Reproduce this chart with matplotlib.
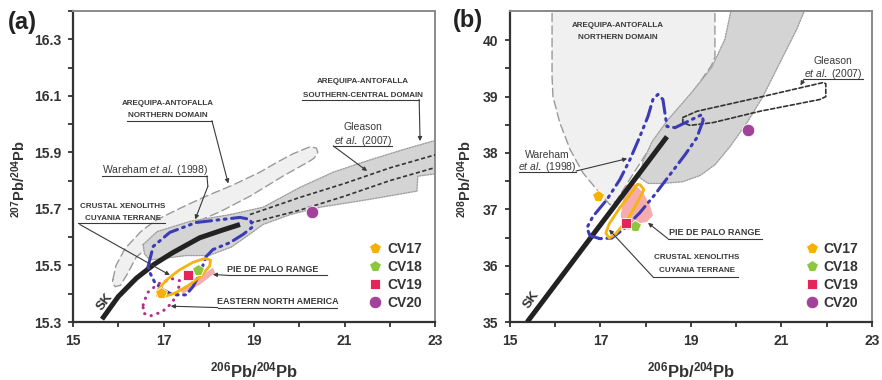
"""Pb isotope diagrams (207Pb/204Pb and 208Pb/204Pb vs 206Pb/204Pb)
"""

import matplotlib
matplotlib.use("Agg")
import matplotlib.pyplot as plt
from matplotlib.patches import Polygon

plt.rcParams['font.family'] = ['Liberation Sans', 'DejaVu Sans']
plt.rcParams['font.weight'] = 'bold'
plt.rcParams['mathtext.fontset'] = 'custom'
plt.rcParams['mathtext.rm'] = 'Liberation Sans:weight=bold'
plt.rcParams['mathtext.it'] = 'Liberation Sans:style=italic:weight=normal'
plt.rcParams['mathtext.bf'] = 'Liberation Sans:weight=bold'

# ---- samples ----
samples = ['CV17', 'CV18', 'CV19', 'CV20']
a_sample_x = [16.94, 17.77, 17.54, 20.28]
a_sample_y = [15.403, 15.485, 15.467, 15.688]
b_sample_x = [16.94, 17.76, 17.56, 20.26]
b_sample_y = [37.24, 36.71, 36.76, 38.40]

# ---- panel (a) fields: 206Pb/204Pb vs 207Pb/204Pb ----
a_sk = [(15.64, 15.31), (16.0, 15.39), (16.4, 15.455), (16.8, 15.505), (17.2, 15.545),
        (17.8, 15.598), (18.3, 15.625), (18.69, 15.645)]
a_north = [(15.88, 15.45), (15.95, 15.50), (16.15, 15.56), (16.5, 15.62), (16.83, 15.66),
           (17.4, 15.705), (17.94, 15.745), (18.54, 15.785), (19.13, 15.83), (19.51, 15.865),
           (19.86, 15.895), (20.24, 15.92), (20.38, 15.915), (20.41, 15.90), (20.33, 15.88),
           (20.24, 15.87), (19.64, 15.816), (18.91, 15.745), (18.25, 15.69), (17.74, 15.655),
           (17.2, 15.615), (16.70, 15.57), (16.4, 15.53), (16.2, 15.47), (16.05, 15.43),
           (15.93, 15.425), (15.87, 15.44)]
a_south = [(16.55, 15.574), (16.86, 15.62), (17.59, 15.656), (18.47, 15.68), (19.2, 15.706),
           (20.0, 15.775), (20.75, 15.83), (21.5, 15.87), (22.3, 15.91), (22.96, 15.94),
           (23.3, 15.95), (23.3, 15.83), (22.62, 15.816), (22.6, 15.763), (21.56, 15.734),
           (20.46, 15.706), (19.8, 15.68), (19.2, 15.645), (18.9, 15.61), (18.5, 15.565),
           (18.0, 15.535), (17.5, 15.535), (17.0, 15.525), (16.7, 15.52), (16.58, 15.54)]
a_gleason_upper = [(18.91, 15.68), (20.0, 15.74), (21.0, 15.79), (22.0, 15.845), (23.3, 15.905)]
a_gleason_lower = [(18.91, 15.65), (20.0, 15.695), (21.0, 15.745), (22.0, 15.80), (23.3, 15.86)]
a_wareham = [(16.66, 15.496), (16.77, 15.567), (17.14, 15.617), (17.72, 15.652), (18.69, 15.670),
             (18.91, 15.663), (18.98, 15.638), (18.76, 15.610), (18.47, 15.581), (18.09, 15.556),
             (17.94, 15.531), (17.81, 15.474), (17.65, 15.425), (17.50, 15.396), (17.21, 15.396),
             (16.99, 15.414), (16.81, 15.439), (16.70, 15.474)]
a_cuyania = [(18.04, 15.519), (18.02, 15.498), (17.84, 15.465), (17.56, 15.430), (17.25, 15.402),
             (17.00, 15.389), (16.86, 15.394), (16.89, 15.416), (17.06, 15.448), (17.34, 15.483),
             (17.65, 15.511), (17.91, 15.525)]
a_eastna = [(16.55, 15.360), (16.64, 15.403), (16.88, 15.435), (17.19, 15.453), (17.36, 15.446),
            (17.32, 15.407), (17.19, 15.368), (16.97, 15.336), (16.70, 15.321), (16.55, 15.332)]
a_piedepalo = [(17.36, 15.414), (17.70, 15.449), (18.09, 15.492), (18.14, 15.474),
               (17.80, 15.432), (17.43, 15.400)]

# ---- panel (b) fields: 206Pb/204Pb vs 208Pb/204Pb ----
b_sk = [(15.38, 35.0), (16.9, 36.62), (18.47, 38.29)]
b_north = [(15.93, 40.7), (15.93, 39.36), (15.95, 39.0), (16.10, 38.54), (16.33, 38.06),
           (16.61, 37.65), (16.92, 37.35), (17.21, 37.08), (17.35, 37.15), (17.7, 37.6),
           (18.1, 38.1), (18.38, 38.42), (18.76, 38.77), (19.13, 39.18), (19.45, 39.55),
           (19.53, 39.7), (19.53, 40.7)]
b_south = [(19.93, 40.7), (19.75, 40.02), (19.46, 39.52), (18.98, 39.04), (18.49, 38.59),
           (18.14, 38.20), (17.94, 37.85), (17.87, 37.56), (18.05, 37.46), (18.38, 37.46),
           (18.82, 37.49), (19.20, 37.60), (19.53, 37.79), (19.86, 38.11), (20.24, 38.54),
           (20.59, 39.00), (20.97, 39.61), (21.34, 40.20), (21.6, 40.7)]
b_gleason = [(18.82, 38.63), (19.13, 38.74), (20.52, 38.99), (21.92, 39.25), (21.98, 39.23),
             (21.98, 39.00), (21.85, 38.95), (20.52, 38.74), (19.49, 38.54), (18.98, 38.49),
             (18.82, 38.54)]
b_wareham = [(16.99, 36.48), (16.77, 36.53), (16.70, 36.67), (16.83, 36.87), (17.14, 37.17),
             (17.43, 37.53), (17.65, 37.88), (17.87, 38.29), (18.05, 38.65), (18.16, 38.95),
             (18.27, 39.04), (18.38, 38.95), (18.43, 38.68), (18.47, 38.47), (18.65, 38.45),
             (18.93, 38.56), (19.24, 38.68), (19.27, 38.58), (19.13, 38.27), (18.87, 37.97),
             (18.54, 37.62), (18.20, 37.26), (17.87, 36.94), (17.54, 36.67), (17.25, 36.49)]
b_cuyania = [(17.87, 37.44), (17.96, 37.35), (17.83, 37.14), (17.59, 36.81), (17.32, 36.55),
             (17.19, 36.49), (17.12, 36.58), (17.19, 36.74), (17.43, 37.03), (17.70, 37.31),
             (17.81, 37.44)]
b_piedepalo = [(17.54, 37.42), (17.72, 37.47), (17.94, 37.30), (18.09, 37.08), (18.16, 36.89),
               (18.03, 36.78), (17.81, 36.74), (17.65, 36.64), (17.48, 36.65), (17.45, 36.90),
               (17.50, 37.17)]

# styles
sample_style = {
    'CV17': dict(marker='p', color='#f5b000', ms=8.5),
    'CV18': dict(marker='p', color='#8dc63f', ms=8.5),
    'CV19': dict(marker='s', color='#e5245a', ms=7.5),
    'CV20': dict(marker='o', color='#a3429a', ms=9),
}
TXT = '#3a3a3a'
BLUE = '#3b3bb5'


def field(ax, pts, fc='none', ec='#999999', ls='-', lw=1.0, z=1, alpha=1.0):
    ax.add_patch(Polygon(pts, closed=True, fc=fc, ec=ec, ls=ls, lw=lw, zorder=z,
                         alpha=alpha, joinstyle='round', capstyle='round'))


def line(ax, pts, **kw):
    ax.plot([p[0] for p in pts], [p[1] for p in pts], **kw)


def callout(ax, lines, xy, under, start, tip, size=5.8, caps=True, path=None):
    for i, t in enumerate(lines):
        ax.text(xy[0], xy[1][i], t, ha='center', va='center', fontsize=size, color=TXT,
                fontweight='bold' if caps else 'normal', zorder=10)
    if under is not None:
        ax.plot([under[0], under[1]], [under[2], under[2]], color=TXT, lw=0.8, zorder=10)
    if start is not None:
        if path:
            ax.plot([start[0]] + [p[0] for p in path], [start[1]] + [p[1] for p in path],
                    color=TXT, lw=0.8, zorder=10)
            start = path[-1]
        ax.annotate('', xy=tip, xytext=start, zorder=10,
                    arrowprops=dict(arrowstyle='-|>', color=TXT, lw=0.8, mutation_scale=6,
                                    shrinkA=0, shrinkB=0))


def style_axes(ax, xlim, ylim, yticks, yminor, ylabels):
    ax.set_xlim(*xlim)
    ax.set_ylim(*ylim)
    ax.set_xticks([15, 17, 19, 21, 23])
    ax.set_xticks([16, 18, 20, 22], minor=True)
    ax.set_yticks(yticks)
    ax.set_yticklabels(ylabels)
    ax.set_yticks(yminor, minor=True)
    ax.tick_params(which='both', direction='out', length=3.5, width=1.3, color='#333333')
    ax.tick_params(axis='both', labelsize=10, labelcolor='#333333')
    ax.tick_params(axis='x', pad=5)
    ax.tick_params(axis='y', pad=5)
    for s in ['top', 'right']:
        ax.spines[s].set_color('#8a8a8a')
        ax.spines[s].set_linewidth(1.4)
    for s in ['left', 'bottom']:
        ax.spines[s].set_color('#333333')
        ax.spines[s].set_linewidth(1.6)


fig = plt.figure(figsize=(8.82, 3.8), dpi=100)
ax1 = fig.add_axes([0.0828, 0.1526, 0.4104, 0.8184])
ax2 = fig.add_axes([0.5782, 0.1526, 0.4104, 0.8184])

# ---------- panel (a) ----------
field(ax1, a_north, fc='#f0f0f0', ec='#9a9a9a', ls=(0, (6, 3)), lw=1.0, z=1)
field(ax1, a_south, fc='#d4d4d4', ec='#a0a0a0', ls=(0, (1, 1)), lw=1.0, z=2)
line(ax1, a_gleason_upper, color='#333333', lw=1.2, ls=(0, (2.5, 1.5)), zorder=3)
line(ax1, a_gleason_lower, color='#333333', lw=1.2, ls=(0, (2.5, 1.5)), zorder=3)
line(ax1, a_sk, color='#222222', lw=3.6, solid_capstyle='butt', zorder=4)
field(ax1, a_piedepalo, fc='#f5a3a3', ec='none', z=4, alpha=0.9)
field(ax1, a_eastna, ec='#b0308c', ls=(0, (0.1, 2.2)), lw=2.2, z=5)
field(ax1, a_wareham, ec=BLUE, ls=(0, (5, 1.8, 0.6, 1.8, 0.6, 1.8)), lw=2.2, z=5)
field(ax1, a_cuyania, ec='#f5b40e', lw=2.0, z=5)

# ---------- panel (b) ----------
field(ax2, b_north, fc='#f0f0f0', ec='#9a9a9a', ls=(0, (6, 3)), lw=1.0, z=1)
field(ax2, b_south, fc='#d4d4d4', ec='#a0a0a0', ls=(0, (1, 1)), lw=1.0, z=2)
field(ax2, b_gleason, ec='#333333', ls=(0, (2.5, 1.5)), lw=1.2, z=3)
field(ax2, b_piedepalo, fc='#f5a3a3', ec='none', z=3, alpha=0.9)
line(ax2, b_sk, color='#222222', lw=3.6, solid_capstyle='butt', zorder=4)
field(ax2, b_wareham, ec=BLUE, ls=(0, (5, 1.8, 0.6, 1.8, 0.6, 1.8)), lw=2.2, z=5)
field(ax2, b_cuyania, ec='#f5b40e', lw=2.0, z=5)

for ax, xs, ys in [(ax1, a_sample_x, a_sample_y), (ax2, b_sample_x, b_sample_y)]:
    for name, x, y in zip(samples, xs, ys):
        st = sample_style[name]
        ax.plot([x], [y], ls='none', marker=st['marker'], ms=st['ms'], mfc=st['color'],
                mec='white', mew=0.6, label=name, zorder=8)
    leg = ax.legend(loc='lower left', bbox_to_anchor=(0.80, 0.02), frameon=False,
                    fontsize=10, handlelength=1.0, handletextpad=0.35, labelspacing=0.3,
                    borderaxespad=0)
    for t in leg.get_texts():
        t.set_color('#333333')

style_axes(ax1, (15, 23), (15.3, 16.4),
           [15.3, 15.5, 15.7, 15.9, 16.1, 16.3],
           [15.4, 15.6, 15.8, 16.0, 16.2, 16.4],
           ['15.3', '15.5', '15.7', '15.9', '16.1', '16.3'])
style_axes(ax2, (15, 23), (35, 40.52),
           [35, 36, 37, 38, 39, 40],
           [35.5, 36.5, 37.5, 38.5, 39.5],
           ['35', '36', '37', '38', '39', '40'])

ETAL = r'$\mathit{et\ al.}$'

# ---------- annotations (a) ----------
callout(ax1, ['AREQUIPA-ANTOFALLA', 'NORTHERN DOMAIN'], (17.1, [16.072, 16.030]),
        (16.19, 18.07, 16.012), (18.07, 16.012), (18.43, 15.79))
callout(ax1, ['AREQUIPA-ANTOFALLA', 'SOUTHERN-CENTRAL DOMAIN'], (21.41, [16.151, 16.101]),
        (20.06, 22.65, 16.087), (22.65, 16.087), (22.67, 15.94))
callout(ax1, ['Gleason', ETAL + ' (2007)'], (21.41, [15.99, 15.942]),
        (20.75, 22.05, 15.923), (20.75, 15.923), (21.50, 15.834), size=7.5, caps=False)
callout(ax1, ['Wareham ' + ETAL + ' (1998)'], (16.81, [15.836]),
        (15.64, 17.96, 15.816), (17.96, 15.816), (17.70, 15.663), size=7.5, caps=False,
        path=[(17.98, 15.78)])
callout(ax1, ['CRUSTAL XENOLITHS', 'CUYANIA TERRANE'], (16.10, [15.709, 15.665]),
        (15.11, 17.03, 15.649), (15.15, 15.645), (17.14, 15.466))
callout(ax1, ['PIE DE PALO RANGE'], (19.42, [15.485]),
        (18.43, 20.61, 15.465), (18.43, 15.465), (18.09, 15.468), size=6.5)
callout(ax1, ['EASTERN NORTH AMERICA'], (19.53, [15.371]),
        (18.20, 20.83, 15.351), (18.20, 15.351), (17.16, 15.356), size=6.5)
ax1.text(15.7, 15.372, 'SK', rotation=52, ha='center', va='center', fontsize=9.5,
         color='#333333')

# ---------- annotations (b) ----------
callout(ax2, ['AREQUIPA-ANTOFALLA', 'NORTHERN DOMAIN'], (17.39, [40.27, 40.05]),
        None, None, None)
callout(ax2, ['Gleason', ETAL + ' (2007)'], (22.14, [39.63, 39.41]),
        (21.50, 22.80, 39.31), (21.50, 39.31), (21.42, 39.20), size=7.5, caps=False)
callout(ax2, ['Wareham', ETAL + ' (1998)'], (15.82, [37.97, 37.76]),
        (15.20, 16.46, 37.66), (16.46, 37.68), (17.59, 37.90), size=7.5, caps=False)
callout(ax2, ['PIE DE PALO RANGE'], (19.53, [36.58]),
        (18.49, 20.57, 36.48), (18.49, 36.48), (18.05, 36.76), size=6.5)
callout(ax2, ['CRUSTAL XENOLITHS', 'CUYANIA TERRANE'], (19.13, [36.14, 35.92]),
        (18.16, 20.04, 35.80), (18.16, 35.80), (17.19, 36.64))
ax2.text(15.48, 35.4, 'SK', rotation=55, ha='center', va='center', fontsize=9.5,
         color='#333333')

# ---------- axis labels ----------
for ax, lab, lx in [(ax1, r'$^{207}$Pb/$^{204}$Pb', -0.15), (ax2, r'$^{208}$Pb/$^{204}$Pb', -0.125)]:
    ax.text(lx, 0.46, lab, transform=ax.transAxes, rotation=90, ha='center', va='center',
            fontsize=10.5, color='#333333')
    ax.text(0.5, -0.155, r'$^{206}$Pb/$^{204}$Pb', transform=ax.transAxes, ha='center',
            va='center', fontsize=12, color='#333333')

fig.text(22 / 882, 1 - 22 / 380, '(a)', ha='center', va='center', fontsize=17, color='#222222')
fig.text(468 / 882, 1 - 20 / 380, '(b)', ha='center', va='center', fontsize=17, color='#222222')

fig.savefig('out.png', dpi=100)
